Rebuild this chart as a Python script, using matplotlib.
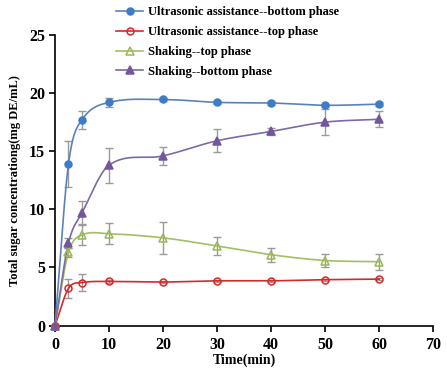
import numpy as np
import matplotlib
matplotlib.use("Agg")
import matplotlib.pyplot as plt
from matplotlib.lines import Line2D

plt.rcParams['font.family'] = ['Liberation Serif', 'DejaVu Serif']
plt.rcParams['font.weight'] = 'bold'

time = [0, 2.5, 5, 10, 20, 30, 40, 50, 60]
us_bottom = [0, 13.9, 17.7, 19.2, 19.45, 19.2, 19.15, 18.95, 19.05]
us_bottom_err = [0, 1.95, 0.8, 0.4, 0.1, 0.1, 0.15, 0.15, 0.15]
us_top = [0, 3.2, 3.7, 3.8, 3.75, 3.85, 3.85, 3.95, 4.0]
us_top_err = [0, 0.8, 0.7, 0.1, 0.1, 0.1, 0.1, 0.1, 0.1]
sh_top = [0, 6.3, 7.8, 7.9, 7.55, 6.85, 6.1, 5.6, 5.5]
sh_top_err = [0, 0.4, 0.85, 0.9, 1.4, 0.8, 0.6, 0.6, 0.7]
sh_bottom = [0, 7.1, 9.7, 13.8, 14.6, 15.9, 16.7, 17.5, 17.75]
sh_bottom_err = [0, 0.4, 1.0, 1.5, 0.75, 1.0, 0.3, 1.1, 0.7]

labels = ['Ultrasonic assistance--bottom phase', 'Ultrasonic assistance--top phase',
          'Shaking--top phase', 'Shaking--bottom phase']


def smooth(x, y, n=30):
    # Catmull-Rom style Hermite spline for drawing a smooth connecting line
    x = np.asarray(x, float); y = np.asarray(y, float)
    m = np.zeros_like(y)
    for i in range(len(x)):
        if i == 0:
            m[i] = (y[1] - y[0]) / (x[1] - x[0])
        elif i == len(x) - 1:
            m[i] = (y[-1] - y[-2]) / (x[-1] - x[-2])
        else:
            m[i] = (y[i + 1] - y[i - 1]) / (x[i + 1] - x[i - 1])
    xs, ys = [], []
    for i in range(len(x) - 1):
        h = x[i + 1] - x[i]
        t = np.linspace(0, 1, n, endpoint=(i == len(x) - 2))
        h00 = 2 * t**3 - 3 * t**2 + 1
        h10 = t**3 - 2 * t**2 + t
        h01 = -2 * t**3 + 3 * t**2
        h11 = t**3 - t**2
        xs.append(x[i] + t * h)
        ys.append(h00 * y[i] + h10 * h * m[i] + h01 * y[i + 1] + h11 * h * m[i + 1])
    return np.concatenate(xs), np.concatenate(ys)


fig = plt.figure(figsize=(4.47, 3.76), dpi=100)
ax = fig.add_axes([0.123, 0.134, 0.846, 0.773])

series = [
    (us_bottom, us_bottom_err, '#5b82b8', 'o', '#3d7cc9', '#3d7cc9'),
    (us_top, us_top_err, '#d42a2a', 'o', 'none', '#d42a2a'),
    (sh_top, sh_top_err, '#a2bf63', '^', 'none', '#9ab754'),
    (sh_bottom, sh_bottom_err, '#7d6aa5', '^', '#74569e', '#74569e'),
]

handles = []
for (vals, err, lc, mk, mfc, mec) in series:
    ax.errorbar(time, vals, yerr=err, fmt='none', ecolor='#9a9a9a', elinewidth=1.0,
                capsize=3, capthick=1.0, zorder=2, clip_on=False)
    sx, sy = smooth(time, vals)
    ax.plot(sx, sy, color=lc, lw=1.2, zorder=3, clip_on=False)
    ms = 5 if mk == 'o' else 5.5
    ax.plot(time, vals, linestyle='none', marker=mk, markersize=ms, markerfacecolor=mfc,
            markeredgecolor=mec, markeredgewidth=1.1, zorder=4, clip_on=False)
    handles.append(Line2D([], [], color=lc, lw=1.2, marker=mk, markersize=ms,
                          markerfacecolor=mfc, markeredgecolor=mec, markeredgewidth=1.1))

ax.set_xlim(0, 70)
ax.set_ylim(0, 25)
ax.set_xticks(range(0, 71, 10))
ax.set_yticks(range(0, 26, 5))
for s in ['top', 'right']:
    ax.spines[s].set_visible(False)
for s in ['left', 'bottom']:
    ax.spines[s].set_linewidth(1.2)
ax.tick_params(direction='out', length=4, width=1.2, labelsize=11.5)
ax.tick_params(axis='x', pad=4.5)
ax.tick_params(axis='y', pad=3)
for lab in ax.get_xticklabels() + ax.get_yticklabels():
    lab.set_fontweight('bold')
ax.set_xlabel('Time(min)', fontsize=10, fontweight='bold', labelpad=0)
ax.set_ylabel('Total sugar concentrationg(mg DE/mL)', fontsize=9, fontweight='bold', labelpad=6)

fig.legend(handles, labels, loc='upper left', bbox_to_anchor=(0.259, 0.983),
           frameon=False, prop={'weight': 'bold', 'size': 9}, handlelength=2.2,
           handletextpad=0.38, labelspacing=0.62, borderaxespad=0, borderpad=0)

fig.savefig('out.png', dpi=100)
